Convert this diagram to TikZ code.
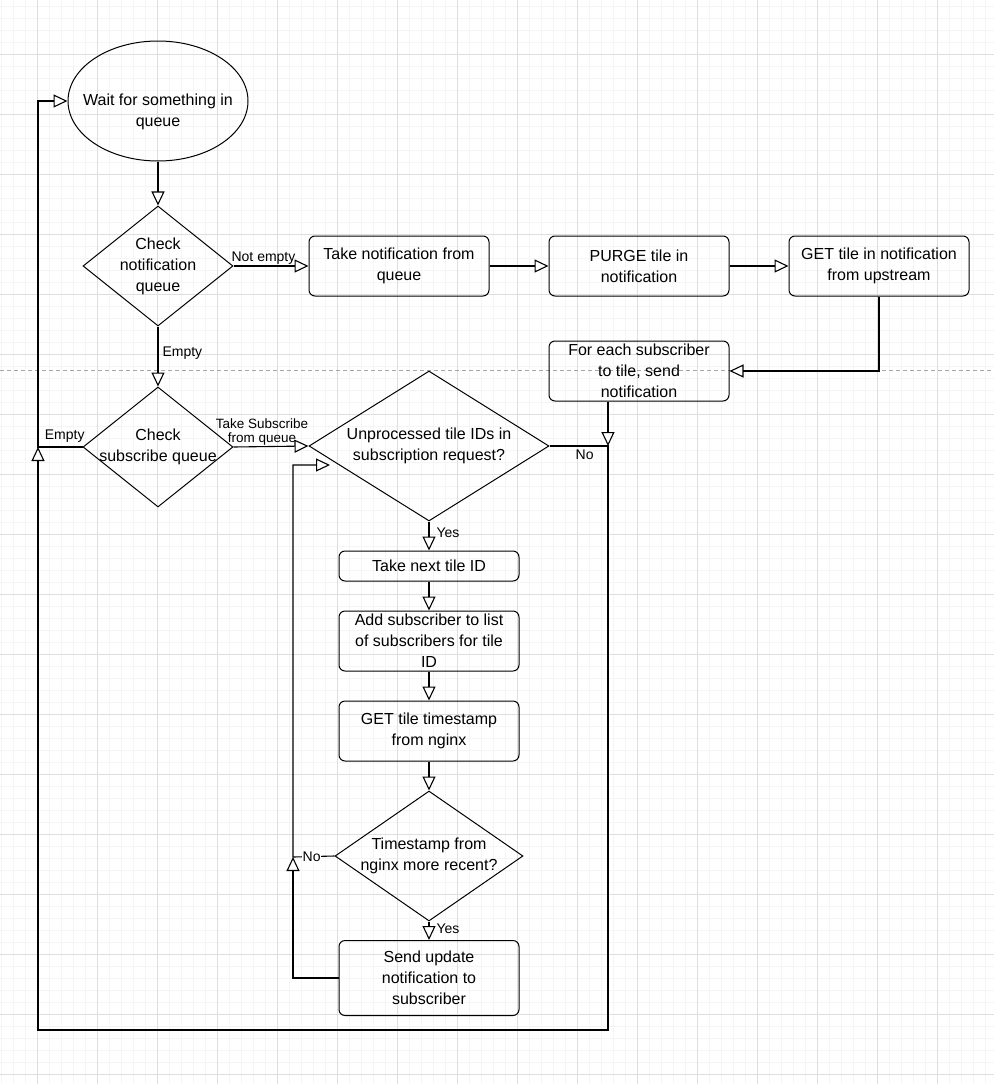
\documentclass[tikz,border=0pt]{standalone}
\usepackage{fontspec}
\setmainfont{Liberation Sans}
\usetikzlibrary{shapes.geometric,arrows.meta,calc}
\begin{document}
\begin{tikzpicture}[x=1pt,y=-1pt,
  every node/.style={font=\fontsize{16}{21}\selectfont},
  every label/.style={align=center,font=\fontsize{16}{21}\selectfont,inner sep=0pt},
  box/.style={draw,line width=1pt,rounded corners=6pt,minimum width=180pt,align=center,inner sep=1pt,minimum height=60pt},
  dia/.style={draw,line width=1pt,diamond,aspect=1.25,inner sep=0pt,align=center},
  lbl/.style={font=\fontsize{14}{15}\selectfont,inner sep=1pt,align=center},
  ar/.style={draw,line width=1.1pt,-{Triangle[open,length=14pt,width=13pt,fill=white]}}]
\useasboundingbox (0,0) rectangle (994,1084);
\fill[white] (0,0) rectangle (994,1084);
\foreach \x in {1,13,...,994} \draw[black!4,line width=0.6pt] (\x,0) -- (\x,1084);
\foreach \y in {6,18,...,1084} \draw[black!4,line width=0.6pt] (0,\y) -- (994,\y);
\foreach \x in {37,97,...,994} \draw[black!13,line width=0.8pt] (\x,0) -- (\x,1084);
\foreach \y in {54,114,...,1084} \draw[black!13,line width=0.8pt] (0,\y) -- (994,\y);
\draw[black!35,dashed,dash pattern=on 4pt off 3pt,line width=0.8pt] (0,370) -- (994,370);

\node[draw,line width=1pt,ellipse,minimum width=180pt,minimum height=120pt,inner sep=0pt,
  label={[yshift=-11pt]center:Wait for something in\\queue}] (wait) at (158,101) {};
\node[dia,minimum width=150pt,minimum height=120pt,label={center:Check\\notification\\queue}] (cn) at (158,266) {};
\node[box] (take) at (399,266) {Take notification from\\queue};
\node[box] (purge) at (639,266) {PURGE tile in\\notification};
\node[box] (get) at (879,266) {GET tile in notification\\from upstream};
\node[box] (fe) at (639,371) {For each subscriber\\to tile, send\\notification};
\node[dia,minimum width=150pt,minimum height=120pt,label={center:Check\\subscribe queue}] (cs) at (158,447) {};
\node[dia,minimum width=240pt,minimum height=150pt,label={center:Unprocessed tile IDs in\\subscription request?}] (un) at (429,446) {};
\node[box,minimum height=30pt] (next) at (429,566) {Take next tile ID};
\node[box] (add) at (429,641) {Add subscriber to list\\of subscribers for tile\\ID};
\node[box] (gts) at (429,731) {GET tile timestamp\\from nginx};
\node[dia,minimum width=188pt,minimum height=130pt,label={center:Timestamp from\\nginx more recent?}] (ts) at (429,856) {};
\node[box,minimum height=75pt] (send) at (429,978) {Send update\\notification to\\subscriber};

\coordinate (n1) at (608,446);
\coordinate (n2) at (38,447);
\coordinate (j1) at (293,857);

\draw[ar] (wait) -- (cn);
\draw[ar] (cn.east) -- node[lbl,above,pos=0.4] {Not empty} (take.west);
\draw[ar] (take) -- (purge);
\draw[ar] (purge) -- (get);
\draw[ar] (get.south) |- (fe.east);
\draw[ar] (cn.south) -- node[lbl,right,pos=0.45,xshift=3pt] {Empty} (cs.north);
\draw[ar] (cs.east) -- node[lbl,above,pos=0.38,font=\fontsize{13.5}{14}\selectfont] {Take Subscribe\\from queue} (un.west);
\draw[ar] (fe.south -| n1) -- (n1);
\draw[ar] (un.east) -- node[lbl,below,pos=0.6,yshift=-2pt] {No} (n1) -- (608,1030) -- (38,1030) -- (n2);
\draw[ar] (cs.west) -- node[lbl,above,pos=0.4,yshift=3pt] {Empty} (n2) -- (38,101) -- (wait.west);
\draw[ar] (un.south) -- node[lbl,right,pos=0.4,xshift=6pt] {Yes} (next.north);
\draw[ar] (next) -- (add);
\draw[ar] (add) -- (gts);
\draw[ar] (gts) -- (ts);
\draw[ar] (ts.south) -- node[lbl,right,pos=0.4,xshift=6pt] {Yes} (send.north);
\draw[ar] (ts.west) -- node[lbl,pos=0.55,fill=white,inner sep=0.5pt] {No} (j1) -- (293,465) -- (330,465);
\draw[ar] (send.west) -| (j1);
\end{tikzpicture}
\end{document}
